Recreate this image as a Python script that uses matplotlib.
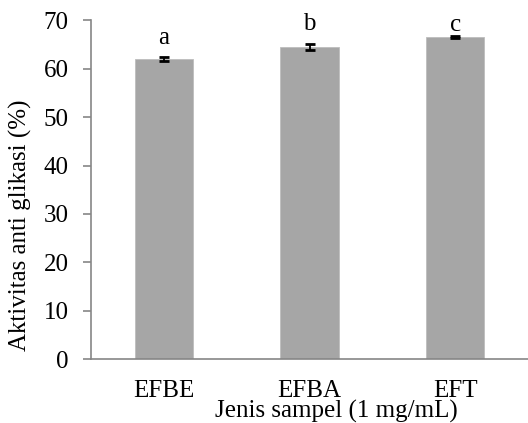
import matplotlib.pyplot as plt

plt.rcParams['font.family'] = ['Liberation Serif', 'DejaVu Serif']

samples = ['EFBE', 'EFBA', 'EFT']
activity = [62.0, 64.5, 66.5]
errors = [0.35, 0.7, 0.2]
letters = ['a', 'b', 'c']
letter_y = [65.1, 68.1, 67.9]
yticks = [0, 10, 20, 30, 40, 50, 60, 70]

fs = 18
fig = plt.figure(figsize=(5.28, 4.23), dpi=100)
ax = fig.add_axes([91 / 528, 1 - 359 / 423, 437 / 528, 338.5 / 423])

x = list(range(len(samples)))
ax.bar(x, activity, width=0.4, color='#a6a6a6', edgecolor='#bdbdbd', linewidth=0.6, zorder=2)
ax.errorbar(x, activity, yerr=errors, fmt='none', ecolor='black', elinewidth=1.3,
            capsize=3.6, capthick=2, zorder=3)
for i in x:
    ax.text(i, letter_y[i], letters[i], ha='center', va='baseline', fontsize=fs)

ax.set_xlim(-0.5, 2.5)
ax.set_ylim(0, 70)
ax.set_yticks(yticks)
ax.set_xticks(x)
ax.set_xticklabels(samples)

for s in ['top', 'right']:
    ax.spines[s].set_visible(False)
for s in ['left', 'bottom']:
    ax.spines[s].set_color('#868686')
    ax.spines[s].set_linewidth(1.2)

ax.tick_params(axis='y', length=6, width=1.2, color='#868686', pad=10, labelsize=fs)
ax.tick_params(axis='x', length=0, pad=15, labelsize=fs)

ax.set_xlabel('Jenis sampel (1 mg/mL)', fontsize=fs)
ax.xaxis.set_label_coords(245 / 437, -0.120)
ax.set_ylabel('Aktivitas anti glikasi (%)', fontsize=fs)
ax.yaxis.set_label_coords(-0.135, 0.396)

fig.savefig('out.png', dpi=100)
